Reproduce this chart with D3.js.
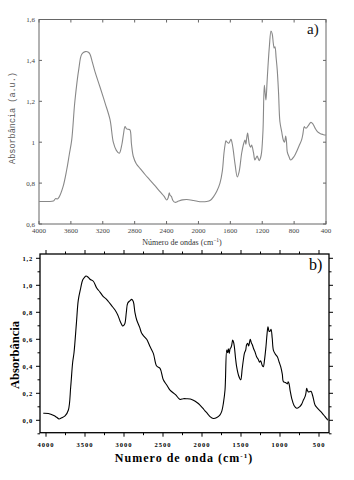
<!DOCTYPE html>
<html><head><meta charset="utf-8">
<script src="https://cdn.jsdelivr.net/npm/d3@7"></script>
<style>body{margin:0;background:#fff}svg{display:block}</style>
</head><body>
<svg id="c" width="354" height="480"></svg>
<script>
// Panel a) spectrum: wavenumber (cm-1) and absorbance (a.u.)
const waveA = [4000,3900,3820,3790,3770,3750,3700,3653,3620,3590,3550,3500,3464,3420,3380,3360,3330,3298,3235,3170,3109,3068,3030,2993,2960,2940,2921,2900,2880,2859,2840,2817,2780,2733,2670,2608,2540,2482,2430,2398,2380,2366,2355,2340,2320,2294,2250,2200,2148,2060,1980,1897,1850,1812,1770,1730,1700,1680,1665,1655,1640,1620,1605,1592,1575,1563,1540,1513,1490,1458,1435,1416,1405,1395,1383,1372,1362,1345,1333,1310,1292,1275,1263,1250,1237,1220,1208,1190,1174,1163,1153,1140,1128,1110,1090,1075,1061,1050,1040,1025,1011,995,978,955,936,920,906,895,886,865,843,800,768,735,706,690,673,660,643,615,589,565,539,505,476,440,410,400];
const absA  = [0.71,0.71,0.712,0.725,0.722,0.73,0.78,0.864,0.94,1.01,1.2,1.36,1.43,1.443,1.44,1.43,1.39,1.345,1.27,1.19,1.11,1.0,0.96,0.946,0.99,1.04,1.076,1.065,1.063,1.06,0.99,0.93,0.895,0.872,0.842,0.815,0.785,0.758,0.735,0.717,0.728,0.753,0.74,0.735,0.715,0.706,0.712,0.718,0.72,0.715,0.709,0.71,0.716,0.733,0.76,0.80,0.86,0.946,0.99,1.007,1.0,0.995,1.005,1.014,0.99,0.96,0.89,0.83,0.855,0.946,0.99,1.011,0.99,1.02,1.045,1.015,0.99,0.975,0.986,0.95,0.913,0.925,0.932,0.92,0.91,0.925,0.95,1.06,1.278,1.24,1.206,1.29,1.369,1.47,1.544,1.53,1.484,1.46,1.467,1.41,1.35,1.24,1.10,1.05,1.011,1.0,1.03,1.0,0.953,0.93,0.913,0.93,0.955,0.985,1.011,1.04,1.076,1.07,1.07,1.085,1.097,1.09,1.07,1.05,1.043,1.038,1.035,1.035];
const ticksXA = [4000,3600,3200,2800,2400,2000,1600,1200,800,400];
const ticksYA = [0.6,0.8,1,1.2,1.4,1.6];
const tickLabelsYA = ["0,6","0,8","1","1,2","1,4","1,6"];

// Panel b) spectrum
const waveB = [4035,3970,3900,3863,3833,3800,3756,3713,3683,3658,3641,3610,3586,3555,3530,3505,3487,3460,3436,3393,3350,3308,3265,3230,3201,3160,3115,3080,3051,3030,3017,3000,2987,2970,2953,2925,2901,2881,2860,2837,2800,2773,2740,2709,2670,2624,2581,2538,2496,2450,2410,2340,2282,2240,2197,2150,2111,2060,2026,1990,1962,1930,1897,1854,1810,1769,1745,1726,1705,1683,1672,1662,1650,1640,1628,1618,1607,1596,1586,1570,1556,1530,1504,1485,1470,1455,1440,1428,1415,1402,1390,1381,1368,1355,1338,1321,1300,1278,1262,1248,1230,1214,1198,1180,1166,1154,1140,1128,1115,1100,1085,1060,1034,1010,991,970,957,930,906,895,885,870,850,820,786,750,722,700,679,668,658,648,636,620,603,580,551,520,487,455,423,400,389];
const absB  = [0.052,0.05,0.035,0.022,0.01,0.018,0.032,0.076,0.25,0.43,0.5,0.72,0.89,0.98,1.04,1.06,1.069,1.06,1.045,1.03,0.98,0.95,0.916,0.9,0.88,0.85,0.817,0.78,0.736,0.71,0.699,0.705,0.72,0.80,0.867,0.885,0.896,0.88,0.80,0.743,0.69,0.644,0.62,0.60,0.55,0.496,0.402,0.385,0.30,0.26,0.224,0.19,0.155,0.16,0.16,0.158,0.149,0.13,0.113,0.09,0.07,0.05,0.027,0.013,0.02,0.04,0.07,0.126,0.224,0.52,0.50,0.53,0.496,0.53,0.54,0.56,0.595,0.58,0.55,0.46,0.397,0.33,0.30,0.38,0.447,0.50,0.52,0.56,0.57,0.55,0.58,0.60,0.575,0.56,0.53,0.508,0.47,0.45,0.43,0.44,0.41,0.397,0.45,0.545,0.64,0.693,0.66,0.66,0.674,0.61,0.52,0.49,0.47,0.43,0.397,0.34,0.286,0.28,0.27,0.285,0.274,0.22,0.163,0.11,0.089,0.10,0.12,0.15,0.175,0.20,0.237,0.22,0.21,0.212,0.215,0.18,0.113,0.09,0.07,0.05,0.027,0.012,0.0];
const ticksXB = [4000,3500,3000,2500,2000,1500,1000,500];
const minorXB = [3750,3250,2750,2250,1750,1250,750];
const ticksYB = [0,0.2,0.4,0.6,0.8,1.0,1.2];
const minorYB = [-0.1,0.1,0.3,0.5,0.7,0.9,1.1];
const tickLabelsYB = ["0,0","0,2","0,4","0,6","0,8","1,0","1,2"];

const svg = d3.select("#c");

// ---------- Panel a ----------
(function(){
  const L=39,R=326,T=19.5,B=224;
  const x=d3.scaleLinear().domain([4000,400]).range([L,R]);
  const y=d3.scaleLinear().domain([0.6,1.6]).range([B,T]);
  const g=svg.append("g");
  const col="#666";
  g.append("rect").attr("x",L).attr("y",T).attr("width",R-L).attr("height",B-T)
    .attr("fill","none").attr("stroke",col).attr("stroke-width",1);
  const line=d3.line().x((d,i)=>x(waveA[i])).y((d,i)=>y(absA[i])).curve(d3.curveCatmullRom.alpha(0.5));
  g.append("path").attr("d",line(absA)).attr("fill","none").attr("stroke","#888").attr("stroke-width",1.1);
  ticksXA.forEach(t=>{
    g.append("line").attr("x1",x(t)).attr("x2",x(t)).attr("y1",B).attr("y2",B-3).attr("stroke",col);
    g.append("line").attr("x1",x(t)).attr("x2",x(t)).attr("y1",T).attr("y2",T+3).attr("stroke",col);
    g.append("text").attr("x",x(t)).attr("y",B+8.5).attr("text-anchor","middle")
      .attr("font-family","Liberation Serif, serif").attr("font-size",7).attr("fill","#444").text(t);
  });
  ticksYA.forEach((t,i)=>{
    g.append("line").attr("x1",L).attr("x2",L+3).attr("y1",y(t)).attr("y2",y(t)).attr("stroke",col);
    g.append("line").attr("x1",R).attr("x2",R-3).attr("y1",y(t)).attr("y2",y(t)).attr("stroke",col);
    g.append("text").attr("x",L-4).attr("y",y(t)+2.5).attr("text-anchor","end")
      .attr("font-family","Liberation Serif, serif").attr("font-size",7).attr("fill","#444").text(tickLabelsYA[i]);
  });
  g.append("text").attr("transform",`translate(15,118) rotate(-90)`).attr("text-anchor","middle")
    .attr("font-family","Liberation Mono, DejaVu Sans Mono, monospace").attr("font-size",8.5).attr("fill","#555")
    .text("Absorbância (a.u.)");
  const xl=g.append("text").attr("x",182).attr("y",245).attr("text-anchor","middle")
    .attr("font-family","Liberation Serif, serif").attr("font-size",8).attr("fill","#333");
  xl.append("tspan").text("Número de ondas (cm");
  xl.append("tspan").attr("dy",-3).attr("font-size",5.5).text("−1");
  xl.append("tspan").attr("dy",3).text(")");
  g.append("text").attr("x",307).attr("y",34).attr("font-family","Liberation Serif, serif")
    .attr("font-size",15).attr("fill","#111").text("a)");
})();

// ---------- Panel b ----------
(function(){
  const L=40,R=329,T=254,B=432.7;
  const x=d3.scaleLinear().domain([4000,500]).range([46,319]);
  const y=d3.scaleLinear().domain([0,1.2]).range([420.3,258.3]);
  const g=svg.append("g");
  g.append("rect").attr("x",L).attr("y",T).attr("width",R-L).attr("height",B-T)
    .attr("fill","none").attr("stroke","#000").attr("stroke-width",1.3);
  const line=d3.line().x((d,i)=>x(waveB[i])).y((d,i)=>y(absB[i])).curve(d3.curveCatmullRom.alpha(0.5));
  g.append("path").attr("d",line(absB)).attr("fill","none").attr("stroke","#000").attr("stroke-width",1.1);
  const tk=(x1,x2,y1,y2)=>g.append("line").attr("x1",x1).attr("x2",x2).attr("y1",y1).attr("y2",y2).attr("stroke","#000").attr("stroke-width",1);
  ticksXB.forEach(t=>{
    tk(x(t),x(t),B,B+4); tk(x(t),x(t),T,T-4);
    g.append("text").attr("x",x(t)).attr("y",B+14).attr("text-anchor","middle")
      .attr("font-family","Liberation Serif, serif").attr("font-weight","bold").attr("font-size",6.5)
      .attr("letter-spacing",1).text(t);
  });
  minorXB.forEach(t=>{ tk(x(t),x(t),B,B+2.5); tk(x(t),x(t),T,T-2.5); });
  ticksYB.forEach((t,i)=>{
    tk(L,L-4,y(t),y(t)); tk(R,R+4,y(t),y(t));
    g.append("text").attr("x",L-7).attr("y",y(t)+2.3).attr("text-anchor","end")
      .attr("font-family","Liberation Serif, serif").attr("font-weight","bold").attr("font-size",6.5)
      .attr("letter-spacing",0.8).text(tickLabelsYB[i]);
  });
  minorYB.forEach(t=>{ tk(L,L-2.5,y(t),y(t)); tk(R,R+2.5,y(t),y(t)); });
  g.append("text").attr("transform",`translate(19,355) rotate(-90)`).attr("text-anchor","middle")
    .attr("font-family","Liberation Serif, serif").attr("font-weight","bold").attr("font-size",12.5)
    .text("Absorbância");
  const xl=g.append("text").attr("x",184).attr("y",462).attr("text-anchor","middle")
    .attr("font-family","Liberation Serif, serif").attr("font-weight","bold").attr("font-size",12)
    .attr("letter-spacing",1);
  xl.append("tspan").text("Numero de onda (cm");
  xl.append("tspan").attr("dy",-4.5).attr("font-size",7).text("-1");
  xl.append("tspan").attr("dy",4.5).text(")");
  g.append("text").attr("x",309).attr("y",270).attr("font-family","Liberation Serif, serif")
    .attr("font-size",16).text("b)");
})();
</script>
</body></html>
